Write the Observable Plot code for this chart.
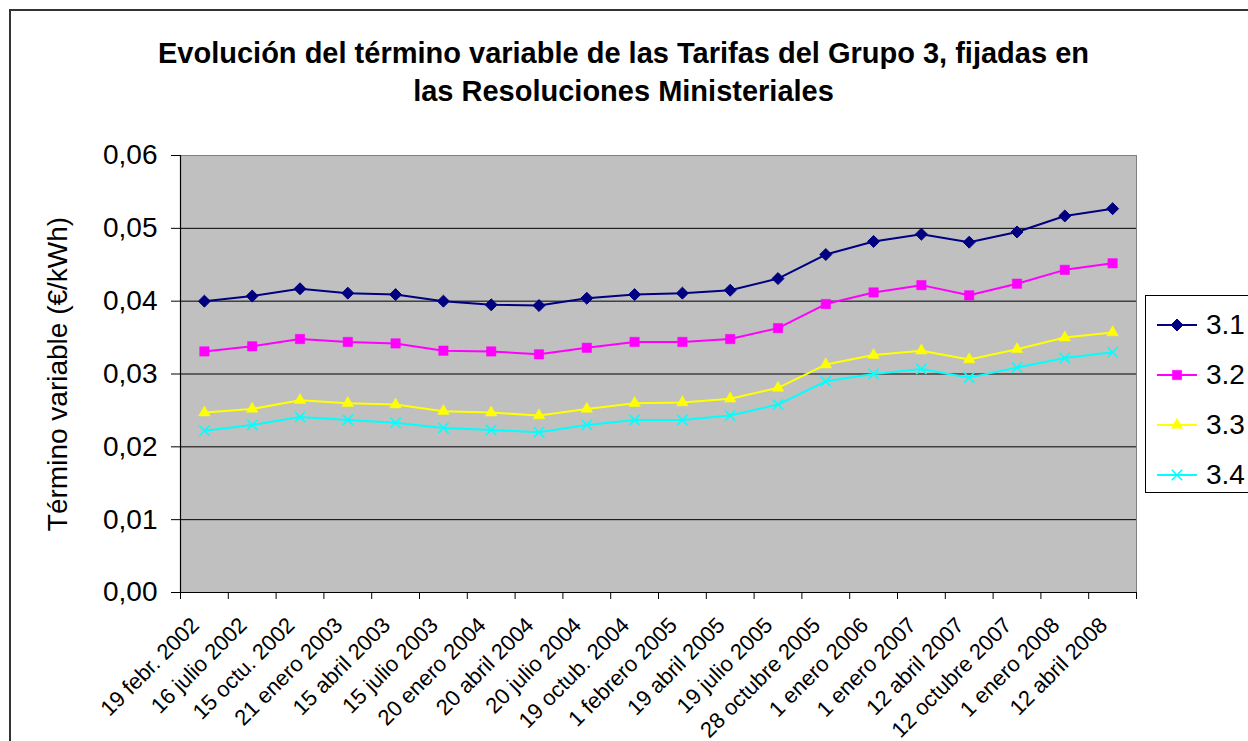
<!DOCTYPE html>
<html><head><meta charset="utf-8">
<script src="https://cdn.jsdelivr.net/npm/d3@7"></script>
<script src="https://cdn.jsdelivr.net/npm/@observablehq/plot@0.6"></script>
<style>
body{margin:0;background:#fff;font-family:"Liberation Sans",Arial,sans-serif;}
#wrap{position:relative;width:1248px;height:741px;overflow:hidden;background:#fff;}
#border{position:absolute;left:9px;top:9px;width:1300px;height:800px;border:2px solid #333;box-sizing:border-box;}
#title{position:absolute;top:34px;left:0;width:1247px;text-align:center;font-weight:bold;font-size:29px;line-height:38px;color:#000;}
#chart{position:absolute;left:0;top:0;}
#legend{position:absolute;left:1145px;top:295px;width:140px;height:198px;border:1px solid #000;background:#fff;box-sizing:border-box;}
.row{position:absolute;left:0;height:40px;display:flex;align-items:center;}
.row span{font-size:28px;margin-left:4px;color:#000;}
</style></head>
<body>
<div id="wrap">
  <div id="border"></div>
  <div id="title">Evolución del término variable de las Tarifas del Grupo 3, fijadas en<br>las Resoluciones Ministeriales</div>
  <div id="chart"></div>
  <div id="legend"></div>
</div>
<script>
const categories = ["19 febr. 2002","16 julio 2002","15 octu. 2002","21 enero 2003","15 abril 2003","15 julio 2003","20 enero 2004","20 abril 2004","20 julio 2004","19 octub. 2004","1 febrero 2005","19 abril 2005","19 julio 2005","28 octubre 2005","1 enero 2006","1 enero 2007","12 abril 2007","12 octubre 2007","1 enero 2008","12 abril 2008"];
const seriesNames = ["3.1","3.2","3.3","3.4"];
const s31 = [0.0400,0.0407,0.0417,0.0411,0.0409,0.0400,0.0395,0.0394,0.0404,0.0409,0.0411,0.0415,0.0431,0.0464,0.0482,0.0492,0.0481,0.0495,0.0517,0.0527];
const s32 = [0.0331,0.0338,0.0348,0.0344,0.0342,0.0332,0.0331,0.0327,0.0336,0.0344,0.0344,0.0348,0.0363,0.0396,0.0412,0.0422,0.0408,0.0424,0.0443,0.0452];
const s33 = [0.0247,0.0252,0.0264,0.0260,0.0258,0.0249,0.0247,0.0243,0.0252,0.0260,0.0261,0.0266,0.0281,0.0313,0.0326,0.0332,0.0320,0.0334,0.0350,0.0357];
const s34 = [0.0222,0.0230,0.0241,0.0237,0.0233,0.0226,0.0223,0.0220,0.0230,0.0237,0.0237,0.0243,0.0258,0.0290,0.0300,0.0307,0.0295,0.0309,0.0322,0.0330];
const yTicks = [0,0.01,0.02,0.03,0.04,0.05,0.06];

const seriesValues = [s31,s32,s33,s34];
const styles = [
  {color:"#000080", symbol:"diamond2", r:5.4, fill:"#000080", stroke:"#000080", sw:1},
  {color:"#FF00FF", symbol:"square", r:5.3, fill:"#FF00FF", stroke:"#FF00FF", sw:0.5},
  {color:"#FFFF00", symbol:"triangle", r:4.3, fill:"#FFFF00", stroke:"#FFFF00", sw:0.5},
  {color:"#00FFFF", symbol:"times", r:4.8, fill:"none", stroke:"#00FFFF", sw:1.6}
];
const rows = [];
seriesNames.forEach((s,k)=>seriesValues[k].forEach((v,i)=>rows.push({series:s, i, v})));
const idx = d3.range(categories.length);
const bounds = d3.range(categories.length+1).map(i=>i-0.5);

const marks = [
  Plot.frame({fill:"#c0c0c0", stroke:"#808080"}),
  Plot.ruleY(yTicks.filter(v=>v>0 && v<0.06), {stroke:"#000", strokeWidth:1}),
  Plot.ruleY([0], {stroke:"#000", strokeWidth:1.2}),
  Plot.ruleX([-0.5], {stroke:"#000", strokeWidth:1.2}),
  Plot.axisY(yTicks, {tickSize:9, tickPadding:14, fontSize:28, tickFormat:d=>d.toFixed(2).replace(".",","),
    label:"Término variable (€/kWh)", labelAnchor:"center", labelOffset:133, labelArrow:"none"}),
  Plot.axisX(bounds, {tickSize:7, tickFormat:()=>"", label:null}),
  Plot.axisX(idx, {tickSize:0, tickRotate:-45, tickPadding:29, dx:-9, fontSize:22, tickFormat:i=>categories[i], label:null})
];
seriesNames.forEach((s,k)=>{
  const st = styles[k];
  const data = rows.filter(d=>d.series===s);
  marks.push(Plot.line(data, {x:"i", y:"v", stroke:st.color, strokeWidth:2}));
});
seriesNames.forEach((s,k)=>{
  const st = styles[k];
  const data = rows.filter(d=>d.series===s);
  marks.push(Plot.dot(data, {x:"i", y:"v", symbol:()=>st.symbol, r:st.r, fill:st.fill, stroke:st.stroke, strokeWidth:st.sw}));
});

const chart = Plot.plot({
  width:1248, height:741,
  marginLeft:180, marginRight:112, marginTop:155, marginBottom:149,
  style:{fontFamily:"'Liberation Sans', Arial, sans-serif", color:"#000", background:"transparent", overflow:"visible"},
  x:{type:"linear", domain:[-0.5, categories.length-0.5], axis:null},
  y:{domain:[0,0.06], axis:null},
  symbol:{type:"identity"},
  marks
});
document.getElementById("chart").append(chart);

// legend
const leg = document.getElementById("legend");
seriesNames.forEach((s,k)=>{
  const st = styles[k];
  const row = document.createElement("div");
  row.className="row";
  row.style.top = (9 + k*50) + "px";
  const symMap = {diamond2:d3.symbolDiamond2, square:d3.symbolSquare, triangle:d3.symbolTriangle, times:d3.symbolTimes};
  const path = d3.symbol(symMap[st.symbol], Math.PI*st.r*st.r)();
  row.innerHTML = `<svg width="56" height="40"><line x1="11" x2="51" y1="20" y2="20" stroke="${st.color}" stroke-width="2"/><path transform="translate(31,20)" d="${path}" fill="${st.fill}" stroke="${st.stroke}" stroke-width="${st.sw}"/></svg><span>${s}</span>`;
  leg.append(row);
});
</script>
</body></html>
